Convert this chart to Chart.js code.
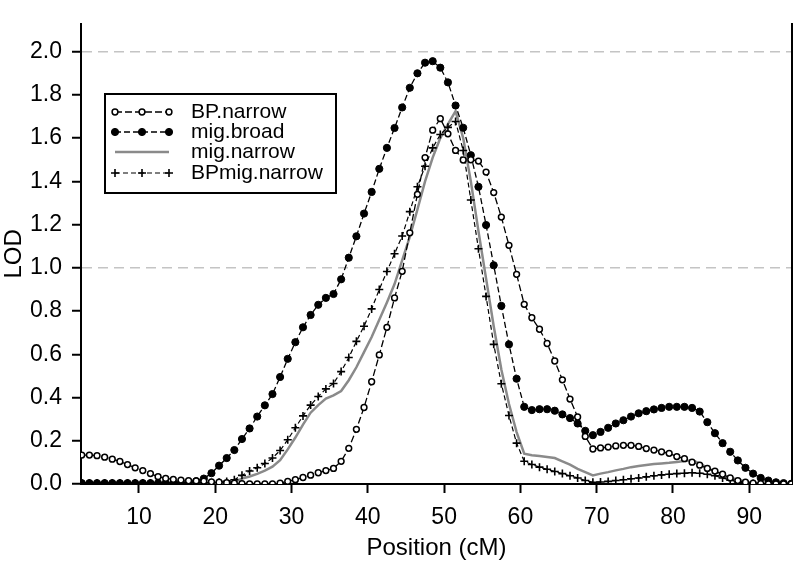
<!DOCTYPE html>
<html>
<head>
<meta charset="utf-8">
<title>LOD profile</title>
<script src="https://cdn.jsdelivr.net/npm/chart.js@4"></script>
<style>
  html, body { margin: 0; padding: 0; background: #fff; }
  #wrap { width: 800px; height: 568px; position: relative; }
</style>
</head>
<body>
<div id="wrap"><canvas id="lodChart" width="800" height="568"></canvas></div>
<script>
// ── Data ─────────────────────────────────────────────────────
const positions = [
   2.5,  3.5,  4.5,  5.5,  6.5,  7.5,  8.5,  9.5, 10.5, 11.5,
  12.5, 13.5, 14.5, 15.5, 16.5, 17.5, 18.5, 19.5, 20.5, 21.5,
  22.5, 23.5, 24.5, 25.5, 26.5, 27.5, 28.5, 29.5, 30.5, 31.5,
  32.5, 33.5, 34.5, 35.5, 36.5, 37.5, 38.5, 39.5, 40.5, 41.5,
  42.5, 43.5, 44.5, 45.5, 46.5, 47.5, 48.5, 49.5, 50.5, 51.5,
  52.5, 53.5, 54.5, 55.5, 56.5, 57.5, 58.5, 59.5, 60.5, 61.5,
  62.5, 63.5, 64.5, 65.5, 66.5, 67.5, 68.5, 69.5, 70.5, 71.5,
  72.5, 73.5, 74.5, 75.5, 76.5, 77.5, 78.5, 79.5, 80.5, 81.5,
  82.5, 83.5, 84.5, 85.5, 86.5, 87.5, 88.5, 89.5, 90.5, 91.5,
  92.5, 93.5, 94.5, 95.5
];

const bpNarrow = [
  0.134, 0.134, 0.131, 0.124, 0.115, 0.104, 0.090, 0.075, 0.062, 0.048,
  0.034, 0.026, 0.021, 0.018, 0.015, 0.014, 0.013, 0.010, 0.008, 0.006,
  0.004, 0.002, 0.000, 0.000, 0.000, 0.000, 0.004, 0.012, 0.020, 0.030,
  0.041, 0.052, 0.062, 0.072, 0.105, 0.165, 0.253, 0.354, 0.473, 0.597,
  0.725, 0.861, 0.984, 1.162, 1.340, 1.510, 1.637, 1.690, 1.620, 1.543,
  1.499, 1.500, 1.494, 1.443, 1.348, 1.235, 1.104, 0.970, 0.831, 0.769,
  0.716, 0.650, 0.569, 0.482, 0.393, 0.310, 0.220, 0.162, 0.167, 0.171,
  0.176, 0.179, 0.179, 0.174, 0.164, 0.157, 0.149, 0.142, 0.127, 0.117,
  0.101, 0.087, 0.072, 0.060, 0.045, 0.028, 0.016, 0.008, 0.004, 0.002,
  0.000, 0.000, 0.000, 0.000
];

const migBroad = [
  0.004, 0.004, 0.004, 0.004, 0.004, 0.004, 0.004, 0.004, 0.004, 0.004,
  0.004, 0.004, 0.005, 0.006, 0.008, 0.013, 0.025, 0.050, 0.085, 0.120,
  0.157, 0.208, 0.257, 0.312, 0.364, 0.416, 0.495, 0.579, 0.656, 0.725,
  0.782, 0.829, 0.861, 0.879, 0.947, 1.047, 1.146, 1.251, 1.351, 1.458,
  1.555, 1.647, 1.742, 1.833, 1.900, 1.949, 1.956, 1.926, 1.858, 1.751,
  1.648, 1.521, 1.375, 1.198, 1.012, 0.824, 0.646, 0.487, 0.357, 0.342,
  0.346, 0.346, 0.339, 0.322, 0.305, 0.280, 0.246, 0.226, 0.241, 0.260,
  0.280, 0.295, 0.312, 0.327, 0.337, 0.345, 0.352, 0.357, 0.357, 0.357,
  0.352, 0.335, 0.286, 0.235, 0.189, 0.149, 0.109, 0.075, 0.048, 0.028,
  0.016, 0.008, 0.004, 0.001
];

const migNarrow = [
  0.002, 0.002, 0.002, 0.002, 0.002, 0.002, 0.002, 0.002, 0.002, 0.002,
  0.002, 0.002, 0.002, 0.002, 0.002, 0.002, 0.002, 0.002, 0.003, 0.005,
  0.010, 0.025, 0.035, 0.047, 0.062, 0.080, 0.110, 0.160, 0.215, 0.275,
  0.330, 0.365, 0.395, 0.410, 0.430, 0.480, 0.540, 0.610, 0.680, 0.760,
  0.840, 0.925, 1.035, 1.143, 1.270, 1.400, 1.510, 1.600, 1.665, 1.725,
  1.600, 1.400, 1.170, 0.950, 0.730, 0.530, 0.370, 0.240, 0.140, 0.133,
  0.130, 0.125, 0.120, 0.105, 0.090, 0.070, 0.055, 0.040, 0.048, 0.055,
  0.063, 0.070, 0.078, 0.083, 0.088, 0.092, 0.095, 0.098, 0.102, 0.106,
  0.110, 0.095, 0.075, 0.057, 0.042, 0.030, 0.020, 0.012, 0.005, 0.002,
  0.001, 0.000, 0.000, 0.000
];

const bpMigNarrow = [
  0.005, 0.005, 0.005, 0.005, 0.005, 0.005, 0.005, 0.005, 0.005, 0.005,
  0.005, 0.005, 0.005, 0.005, 0.005, 0.005, 0.005, 0.006, 0.008, 0.012,
  0.020, 0.040, 0.060, 0.075, 0.095, 0.120, 0.155, 0.205, 0.260, 0.315,
  0.365, 0.405, 0.440, 0.465, 0.520, 0.585, 0.660, 0.730, 0.810, 0.900,
  0.983, 1.065, 1.147, 1.260, 1.375, 1.470, 1.555, 1.617, 1.650, 1.677,
  1.543, 1.314, 1.088, 0.868, 0.646, 0.464, 0.317, 0.189, 0.105, 0.090,
  0.078, 0.068, 0.058, 0.048, 0.038, 0.028, 0.016, 0.008, 0.009, 0.012,
  0.016, 0.020, 0.024, 0.028, 0.033, 0.038, 0.042, 0.045, 0.048, 0.050,
  0.052, 0.050, 0.045, 0.038, 0.028, 0.018, 0.009, 0.004, 0.002, 0.001,
  0.000, 0.000, 0.000, 0.000
];

const xTicks = [10, 20, 30, 40, 50, 60, 70, 80, 90];
const yTicks = [0.0, 0.2, 0.4, 0.6, 0.8, 1.0, 1.2, 1.4, 1.6, 1.8, 2.0];
const refLines = [1.0, 2.0];

const FONT = "'Liberation Sans', Arial, Helvetica, sans-serif";

// ── Helpers ──────────────────────────────────────────────────
const toPoints = vals => positions.map((x, i) => ({ x, y: vals[i] }));

// ── Legend drawn inside the plot, in a box ───────────────────
const boxLegend = {
  id: 'boxLegend',
  afterDatasetsDraw(chart) {
    const ctx = chart.ctx;
    const left = 105, top = 94, w = 231, h = 99;
    const rowY = [112, 132, 152, 173];
    ctx.save();
    ctx.fillStyle = '#fff';
    ctx.fillRect(left, top, w, h);
    ctx.lineWidth = 2;
    ctx.strokeStyle = '#000';
    ctx.strokeRect(left, top, w, h);

    chart.data.datasets.forEach((ds, i) => {
      const y = rowY[i];
      const x1 = 115, x2 = 169;
      ctx.save();
      ctx.strokeStyle = ds.borderColor;
      ctx.lineWidth = ds.borderWidth;
      ctx.setLineDash(ds.borderDash || []);
      ctx.beginPath();
      ctx.moveTo(x1, y);
      ctx.lineTo(x2, y);
      ctx.stroke();
      ctx.restore();

      if (ds.pointRadius > 0) {
        [x1, (x1 + x2) / 2, x2].forEach(px => {
          ctx.save();
          ctx.setLineDash([]);
          ctx.lineWidth = ds.pointBorderWidth;
          ctx.strokeStyle = ds.pointBorderColor;
          ctx.fillStyle = ds.pointBackgroundColor;
          ctx.beginPath();
          if (ds.pointStyle === 'cross') {
            const r = ds.pointRadius;
            ctx.moveTo(px - r, y); ctx.lineTo(px + r, y);
            ctx.moveTo(px, y - r); ctx.lineTo(px, y + r);
            ctx.stroke();
          } else {
            ctx.arc(px, y, ds.pointRadius, 0, Math.PI * 2);
            ctx.fill();
            ctx.stroke();
          }
          ctx.restore();
        });
      }

      ctx.fillStyle = '#000';
      ctx.font = '21px ' + FONT;
      ctx.textBaseline = 'middle';
      ctx.textAlign = 'left';
      ctx.fillText(ds.label, 191, y);
    });
    ctx.restore();
  }
};

// ── Chart ────────────────────────────────────────────────────
const ctx = document.getElementById('lodChart').getContext('2d');

new Chart(ctx, {
  type: 'line',
  data: {
    datasets: [
      {
        label: 'BP.narrow',
        data: toPoints(bpNarrow),
        borderColor: '#000',
        borderWidth: 1.3,
        borderDash: [7, 3],
        pointStyle: 'circle',
        pointRadius: 2.9,
        pointBorderWidth: 1.5,
        pointBorderColor: '#000',
        pointBackgroundColor: '#fff',
        order: 1,
      },
      {
        label: 'mig.broad',
        data: toPoints(migBroad),
        borderColor: '#000',
        borderWidth: 1.3,
        borderDash: [6, 3],
        pointStyle: 'circle',
        pointRadius: 3.6,
        pointBorderWidth: 1,
        pointBorderColor: '#000',
        pointBackgroundColor: '#000',
        order: 2,
      },
      {
        label: 'mig.narrow',
        data: toPoints(migNarrow),
        borderColor: '#8a8a8a',
        borderWidth: 2.5,
        borderDash: [],
        pointRadius: 0,
        order: 4,
      },
      {
        label: 'BPmig.narrow',
        data: toPoints(bpMigNarrow),
        borderColor: '#000',
        borderWidth: 1.2,
        borderDash: [5, 3],
        pointStyle: 'cross',
        pointRadius: 4,
        pointBorderWidth: 1.6,
        pointBorderColor: '#000',
        pointBackgroundColor: '#000',
        order: 3,
      },
    ]
  },
  options: {
    responsive: false,
    animation: false,
    events: [],
    layout: { padding: { top: 5, right: 8, bottom: 0, left: 0 } },
    elements: { line: { tension: 0 } },
    plugins: {
      legend: { display: false },
      tooltip: { enabled: false },
    },
    scales: {
      x: {
        type: 'linear',
        min: 2.4,
        max: 95.6,
        afterBuildTicks: s => { s.ticks = xTicks.map(v => ({ value: v })); },
        afterFit: s => { s.height = 84; },
        border: { display: true, color: '#000', width: 2 },
        grid: {
          drawOnChartArea: false,
          drawTicks: true,
          tickLength: 9,
          tickColor: '#000',
          tickWidth: 2,
        },
        ticks: {
          color: '#000',
          font: { family: FONT, size: 23 },
          padding: 11,
          maxRotation: 0,
          autoSkip: false,
        },
        title: {
          display: true,
          text: 'Position (cM)',
          color: '#000',
          font: { family: FONT, size: 24 },
          padding: { top: 0, bottom: 5 },
        },
      },
      y: {
        min: 0,
        max: 2.129,
        afterBuildTicks: s => { s.ticks = yTicks.map(v => ({ value: v })); },
        afterFit: s => { s.width = 81; },
        border: { display: true, color: '#000', width: 2, dash: [10, 6] },
        grid: {
          drawTicks: true,
          tickLength: 9,
          tickColor: '#000',
          tickWidth: 2,
          lineWidth: 1.5,
          color: c => refLines.some(v => Math.abs(c.tick.value - v) < 1e-6) ? '#c4c4c4' : 'rgba(0,0,0,0)',
        },
        ticks: {
          color: '#000',
          font: { family: FONT, size: 23 },
          padding: 10,
          callback: v => Number(v).toFixed(1),
        },
        title: {
          display: true,
          text: 'LOD',
          color: '#000',
          font: { family: FONT, size: 24 },
          padding: { top: 0, bottom: 0 },
        },
      },
      yRight: {
        position: 'right',
        min: 0,
        max: 2.129,
        afterFit: s => { s.width = 0; },
        border: { display: true, color: '#000', width: 2 },
        grid: { drawOnChartArea: false, drawTicks: false },
        ticks: { display: false },
      },
    }
  },
  plugins: [boxLegend]
});
</script>
</body>
</html>
